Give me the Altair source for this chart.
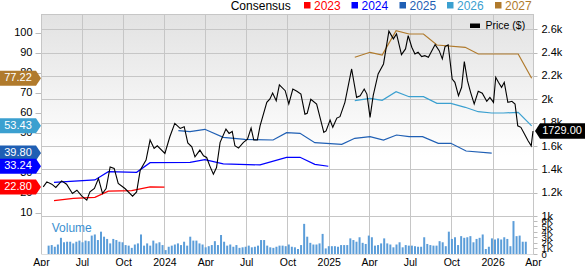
import altair as alt
import pandas as pd

# ---------------- data ----------------
price_dates = [
    "2023-04-06", "2023-04-14", "2023-04-25", "2023-05-04", "2023-05-17", "2023-05-28", "2023-06-10",
    "2023-06-20", "2023-07-01", "2023-07-12", "2023-07-19", "2023-07-29", "2023-08-07", "2023-08-16",
    "2023-08-24", "2023-09-02", "2023-09-11", "2023-09-20", "2023-10-05", "2023-10-22", "2023-10-31",
    "2023-11-08", "2023-11-21", "2023-11-30", "2023-12-09", "2023-12-16", "2024-01-02", "2024-01-13",
    "2024-01-24", "2024-02-05", "2024-02-14", "2024-02-22", "2024-03-02", "2024-03-09", "2024-03-20",
    "2024-03-28", "2024-04-04", "2024-04-11", "2024-04-19", "2024-04-26", "2024-05-04", "2024-05-17",
    "2024-05-24", "2024-05-31", "2024-06-06", "2024-06-14", "2024-06-25", "2024-07-04", "2024-07-12",
    "2024-07-18", "2024-07-26", "2024-08-01", "2024-08-16", "2024-08-23", "2024-08-29", "2024-09-06",
    "2024-09-13", "2024-09-26", "2024-10-04", "2024-10-13", "2024-10-22", "2024-10-31", "2024-11-09",
    "2024-11-14", "2024-11-22", "2024-12-05", "2024-12-21", "2024-12-26", "2025-01-04", "2025-01-10",
    "2025-01-19", "2025-01-26", "2025-02-06", "2025-02-21", "2025-03-04", "2025-03-12", "2025-03-21",
    "2025-03-27", "2025-04-03", "2025-04-10", "2025-04-21", "2025-05-03", "2025-05-15", "2025-05-25",
    "2025-06-01", "2025-06-12", "2025-06-21", "2025-06-27", "2025-07-05", "2025-07-12", "2025-07-19",
    "2025-07-27", "2025-08-03", "2025-08-11", "2025-08-26", "2025-09-04", "2025-09-11", "2025-09-17",
    "2025-09-24", "2025-10-03", "2025-10-09", "2025-10-17", "2025-10-24", "2025-10-30", "2025-11-06",
    "2025-11-13", "2025-11-21", "2025-11-30", "2025-12-09", "2025-12-19", "2025-12-26", "2026-01-03",
    "2026-01-08", "2026-01-14", "2026-01-21", "2026-01-27", "2026-02-04", "2026-02-13", "2026-02-20",
    "2026-02-26", "2026-03-05", "2026-03-13", "2026-03-21", "2026-03-28", "2026-04-01",
]
price_values = [
    1250, 1293, 1273, 1245, 1301, 1273, 1193, 1221, 1170, 1136, 1207, 1236, 1322, 1193,
    1236, 1421, 1408, 1279, 1236, 1170, 1207, 1393, 1479, 1651, 1579, 1602, 1536, 1679,
    1794, 1751, 1765, 1627, 1593, 1507, 1565, 1516, 1502, 1430, 1359, 1416, 1631, 1745,
    1708, 1725, 1602, 1582, 1631, 1659, 1754, 1651, 1651, 1773, 1974, 2003, 2054, 1988,
    2123, 2074, 1960, 2088, 2069, 2045, 1873, 1880, 2000, 1960, 1717, 1730, 1822, 1760,
    1839, 1851, 1974, 2260, 2017, 2031, 2088, 2045, 1845, 2031, 2217, 2303, 2584, 2518,
    2560, 2383, 2432, 2546, 2446, 2389, 2403, 2366, 2374, 2361, 2469, 2417, 2346, 2452,
    2466, 2174, 2146, 2031, 2103, 2323, 2160, 2060, 1960, 2069, 2052, 1983, 2017, 1974,
    2189, 2146, 2103, 2146, 1974, 1983, 1960, 1773, 1760, 1702, 1645, 1602, 1729,
]

cons_years = ["2023", "2024", "2025", "2026", "2027"]
cons_colors = ["#ff0000", "#0000ff", "#1f5fb4", "#3ba0d0", "#b07a2c"]

c2023_dates = ["2023-04-30", "2023-06-12", "2023-07-30", "2023-08-29", "2023-10-20", "2023-11-30", "2024-01-01"]
c2023_values = [16.0, 17.2, 17.7, 20.8, 21.0, 22.9, 22.80]

c2024_dates = ["2023-04-30", "2023-07-30", "2023-08-29", "2023-10-31", "2023-11-30", "2024-02-27",
               "2024-03-31", "2024-05-11", "2024-08-01", "2024-09-29", "2024-10-29", "2024-12-01", "2024-12-31"]
c2024_values = [25.2, 26.4, 30.5, 30.2, 35.0, 35.2, 36.5, 34.4, 33.9, 37.7, 37.7, 34.2, 33.24]

c2025_dates = ["2024-02-01", "2024-02-27", "2024-03-31", "2024-05-11", "2024-06-28", "2024-08-30",
               "2024-09-29", "2024-10-29", "2024-12-01", "2025-01-30", "2025-02-28", "2025-04-03",
               "2025-05-03", "2025-06-01", "2025-06-29", "2025-07-29", "2025-09-02", "2025-09-30",
               "2025-11-03", "2025-12-30"]
c2025_values = [51.0, 50.5, 51.7, 47.7, 46.7, 46.35, 50.0, 49.7, 45.0, 44.2, 47.2, 48.0,
                46.35, 48.85, 48.0, 48.0, 44.7, 44.7, 40.85, 39.80]

c2026_dates = ["2025-02-28", "2025-04-03", "2025-04-30", "2025-05-31", "2025-06-29", "2025-07-31",
               "2025-08-30", "2025-09-30", "2025-11-01", "2025-11-30", "2025-12-30", "2026-01-25",
               "2026-02-27", "2026-03-29"]
c2026_values = [66.0, 67.2, 66.2, 70.5, 68.0, 68.0, 64.7, 64.7, 62.7, 60.5, 59.85, 59.85, 60.2, 53.43]

c2027_dates = ["2025-02-28", "2025-04-03", "2025-04-30", "2025-05-31", "2025-06-29", "2025-07-31",
               "2025-08-30", "2025-11-01", "2025-11-30", "2026-02-27", "2026-03-29"]
c2027_values = [87.7, 90.2, 88.85, 101.0, 99.35, 99.35, 93.85, 92.7, 89.35, 89.35, 77.22]

vol_start = "2023-04-07"   # weekly bars
vol_values = [  # thousands
    1.5, 1.6, 1.3, 1.7, 2.9, 2.1, 2.2, 2.2, 1.9, 2.2,
    2.4, 2.1, 2.4, 2.3, 3.3, 3.5, 2.5, 4.0, 3.1, 2.7,
    1.9, 2.7, 2.5, 2.2, 2.1, 1.6, 1.5, 1.1, 1.7, 1.9,
    3.5, 1.5, 1.9, 1.5, 2.4, 1.9, 2.1, 1.6, 0.7, 1.3,
    1.5, 1.7, 1.9, 1.6, 2.2, 1.5, 3.1, 2.4, 2.4, 1.9,
    1.7, 1.2, 1.4, 1.6, 2.3, 1.6, 3.4, 2.2, 1.5, 1.7,
    1.3, 1.6, 1.1, 1.2, 1.3, 1.5, 1.2, 1.3, 1.5, 2.5,
    2.5, 1.5, 1.2, 1.1, 1.3, 1.5, 1.5,
    1.4, 1.7, 1.3, 1.2, 0.9, 1.6, 5.4, 3.1, 2.0, 1.7,
    1.7, 1.9, 3.6, 1.0, 1.4, 1.4, 1.4, 1.3, 1.6, 1.6,
    1.6, 2.8, 2.5, 2.2, 3.0, 2.0, 1.8, 3.3, 3.0, 1.5,
    1.6, 1.9, 2.8, 1.9, 1.7, 1.2, 1.7, 2.1, 1.2, 1.6,
    1.5, 1.5, 1.4, 1.3, 1.3, 3.0, 1.8, 1.6, 1.5, 1.5,
    2.3, 2.1, 1.4, 4.0, 2.7, 3.0, 1.6, 3.2, 2.9, 3.0,
    3.2, 2.1, 2.7, 2.9, 3.5, 0.9, 1.3, 2.8, 2.6, 2.8,
    2.6, 3.0, 2.7, 1.4, 5.9, 3.2, 3.3, 2.2, 2.2,
]

quarter_ticks = ["2023-04-01", "2023-07-01", "2023-10-01", "2024-01-01", "2024-04-01", "2024-07-01",
                 "2024-10-01", "2025-01-01", "2025-04-01", "2025-07-01", "2025-10-01", "2026-01-01",
                 "2026-04-01"]
cons_ticks = [10, 20, 30, 40, 50, 60, 70, 80, 90, 100]
price_ticks = [1000, 1200, 1400, 1600, 1800, 2000, 2200, 2400, 2600]
vol_ticks = [0, 1, 2, 3, 4, 5, 6]

# ---------------- tables ----------------
price_df = pd.DataFrame({"date": pd.to_datetime(price_dates), "price": price_values})
series = [(c2023_dates, c2023_values), (c2024_dates, c2024_values), (c2025_dates, c2025_values),
          (c2026_dates, c2026_values), (c2027_dates, c2027_values)]
cons_df = pd.concat([
    pd.DataFrame({"date": pd.to_datetime(d), "value": v, "series": y})
    for (d, v), y in zip(series, cons_years)
], ignore_index=True)
flag_df = pd.DataFrame({
    "series": cons_years,
    "value": [v[-1] for _, v in series],
    "label": [f"{v[-1]:.2f}" for _, v in series],
})
flag_df = flag_df.iloc[::-1].reset_index(drop=True)
pflag_df = pd.DataFrame({"price": [price_values[-1]], "label": [f"{price_values[-1]:.2f}"]})
vol_df = pd.DataFrame({"date": pd.date_range(vol_start, periods=len(vol_values), freq="7D"),
                       "vol": vol_values})
qt_df = pd.DataFrame({"date": pd.to_datetime(quarter_ticks)})
pt_df = pd.DataFrame({"price": price_ticks})
one = pd.DataFrame({"k": [0]})

# ---------------- layout ----------------
FONT = "Liberation Sans"
W, H, MAIN_H = 492, 240, 202
GRID = "#c6c6c6"

X_DOMAIN = [alt.DateTime(year=2023, month=4, date=1), alt.DateTime(year=2026, month=4, date=1)]
x_scale = alt.Scale(domain=X_DOMAIN, nice=False)
x_grid_scale = alt.Scale(domain=X_DOMAIN, nice=False, round=True)
CONS_DOMAIN = [-10.65, 109.35]
PRICE_DOMAIN = [674.7, 2731.1]
cons_scale = alt.Scale(domain=CONS_DOMAIN, nice=False, zero=False)
price_scale = alt.Scale(domain=PRICE_DOMAIN, nice=False, zero=False)
price_grid_scale = alt.Scale(domain=PRICE_DOMAIN, nice=False, zero=False, round=True)
vol_scale = alt.Scale(domain=[0, 43.0], nice=False)
color_scale = alt.Scale(domain=cons_years, range=cons_colors)


def dt(s):
    t = pd.Timestamp(s)
    return alt.DateTime(year=t.year, month=t.month, date=t.day)


x_axis = alt.Axis(values=[dt(s) for s in quarter_ticks],
                  labelExpr="month(datum.value) == 0 ? timeFormat(datum.value, '%Y') : timeFormat(datum.value, '%b')",
                  grid=False, domain=False, ticks=False, labelPadding=3, labelFontSize=10.5,
                  labelFlush=False, labelOverlap=False, labelColor="#000", title=None, labelFont=FONT)
left_axis = alt.Axis(orient="left", values=cons_ticks, grid=False, domain=False, tickSize=6,
                     tickColor="#bbbbbb", labelPadding=3, labelFontSize=11, labelColor="#000",
                     title=None, labelOverlap=False, labelFlush=False, labelFont=FONT)
price_axis = alt.Axis(orient="right", values=price_ticks, format="~s", grid=False, domain=False,
                      tickSize=4, tickColor="#bbbbbb", labelPadding=4, labelFontSize=11,
                      labelColor="#000", title=None, labelOverlap=False, labelFlush=False, labelFont=FONT)
vol_axis = alt.Axis(orient="right", values=vol_ticks,
                    labelExpr="datum.value == 0 ? '0' : datum.value + 'K'", grid=False, domain=False,
                    tickSize=4, tickColor="#bbbbbb", labelPadding=4, labelFontSize=9.5,
                    labelColor="#000", title=None, labelOverlap=False, labelFlush=False, labelFont=FONT)

bg = alt.Chart(one).mark_rect(
    color=alt.LinearGradient(gradient="linear",
                             stops=[alt.GradientStop(color="#e2e2e2", offset=0),
                                    alt.GradientStop(color="#ffffff", offset=0.7)],
                             x1=0, x2=0, y1=0, y2=1)
).encode(x=alt.value(0), x2=alt.value(W), y=alt.value(0), y2=alt.value(MAIN_H))

top_line = alt.Chart(one).mark_rule(color=GRID, strokeWidth=1).encode(
    x=alt.value(0), x2=alt.value(W), y=alt.value(0.5))

hgrid = alt.Chart(pt_df).mark_rule(color=GRID, strokeWidth=1, yOffset=0.5).encode(
    y=alt.Y("price:Q", scale=price_grid_scale, axis=None))

vgrid = alt.Chart(qt_df).mark_rule(color=GRID, strokeWidth=1, xOffset=0.5).encode(
    x=alt.X("date:T", scale=x_grid_scale, axis=None))

x_axis_layer = alt.Chart(qt_df).mark_rule(opacity=0).encode(
    x=alt.X("date:T", scale=x_scale, axis=x_axis))

vol = alt.Chart(vol_df).mark_bar(size=2, color="#5b9dd9").encode(
    x=alt.X("date:T", scale=x_scale, axis=None),
    y=alt.Y("vol:Q", scale=vol_scale, axis=vol_axis))

cons_lines = alt.Chart(cons_df).mark_line(strokeWidth=1.2).encode(
    x=alt.X("date:T", scale=x_scale, axis=None),
    y=alt.Y("value:Q", scale=cons_scale, axis=left_axis),
    color=alt.Color("series:N", scale=color_scale, legend=None),
    detail="series:N")

price_line = alt.Chart(price_df).mark_line(strokeWidth=1.1, color="#000000").encode(
    x=alt.X("date:T", scale=x_scale, axis=None),
    y=alt.Y("price:Q", scale=price_scale, axis=price_axis))

vol_text = alt.Chart(one).mark_text(text="Volume", font=FONT, fontSize=12, color="#3a8fd0",
                                    align="left", baseline="middle").encode(
    x=alt.value(10.7), y=alt.value(214))

# legend (top)
legend_layers = [
    alt.Chart(one).mark_text(text="Consensus", font=FONT, fontSize=12, color="#000",
                             align="left", baseline="alphabetic").encode(
        x=alt.value(189.7), y=alt.value(-4.4))
]
sq_x = [263.0, 310.5, 358.5, 406.0, 454.0]
for yr, col, sx in zip(cons_years, cons_colors, sq_x):
    legend_layers.append(alt.Chart(one).mark_rect(color=col).encode(
        x=alt.value(sx), x2=alt.value(sx + 6.5), y=alt.value(-12), y2=alt.value(-5.5)))
    legend_layers.append(alt.Chart(one).mark_text(text=yr, font=FONT, fontSize=12, color=col,
                                                  align="left", baseline="alphabetic").encode(
        x=alt.value(sx + 10), y=alt.value(-4.4)))

price_leg_rect = alt.Chart(one).mark_rect(color="#000").encode(
    x=alt.value(429), x2=alt.value(439), y=alt.value(9.5), y2=alt.value(14))
price_leg_text = alt.Chart(one).mark_text(text="Price ($)", font=FONT, fontSize=10.5, color="#000",
                                          align="left", baseline="middle").encode(
    x=alt.value(444.5), y=alt.value(11.7))

LEFT_FLAG = "M-1,-0.366L0.756,-0.366L1,0L0.756,0.366L-1,0.366Z"
RIGHT_FLAG = "M-1,0L-0.804,-0.306L1,-0.306L1,0.306L-0.804,0.306Z"

flags = alt.Chart(flag_df).mark_point(shape=LEFT_FLAG, size=41 * 41, filled=True, opacity=1,
                                      strokeWidth=0).encode(
    x=alt.value(-20.5),
    y=alt.Y("value:Q", scale=cons_scale, axis=None),
    color=alt.Color("series:N", scale=color_scale, legend=None))
flag_text = alt.Chart(flag_df).mark_text(font=FONT, fontSize=11, color="#ffffff", align="center",
                                         baseline="middle").encode(
    x=alt.value(-23), y=alt.Y("value:Q", scale=cons_scale, axis=None), text="label:N")

pflag = alt.Chart(pflag_df).mark_point(shape=RIGHT_FLAG, size=51 * 51, filled=True, opacity=1,
                                       strokeWidth=0, color="#000").encode(
    x=alt.value(519.5), y=alt.Y("price:Q", scale=price_scale, axis=None))
pflag_text = alt.Chart(pflag_df).mark_text(font=FONT, fontSize=11, color="#ffffff", align="center",
                                           baseline="middle").encode(
    x=alt.value(521), y=alt.Y("price:Q", scale=price_scale, axis=None), text="label:N")

chart = alt.layer(
    bg, hgrid, vgrid, top_line, x_axis_layer, vol, cons_lines, price_line, vol_text,
    *legend_layers, price_leg_rect, price_leg_text, flags, flag_text, pflag, pflag_text
).resolve_scale(x="independent", y="independent").properties(
    width=W, height=H,
    padding={"left": 41, "top": 14, "right": 52, "bottom": 12},
    autosize=alt.AutoSizeParams(type="none"),
).configure_view(stroke=None).configure(font=FONT)

chart.save("out.html", embed_options={"renderer": "svg", "actions": False})
